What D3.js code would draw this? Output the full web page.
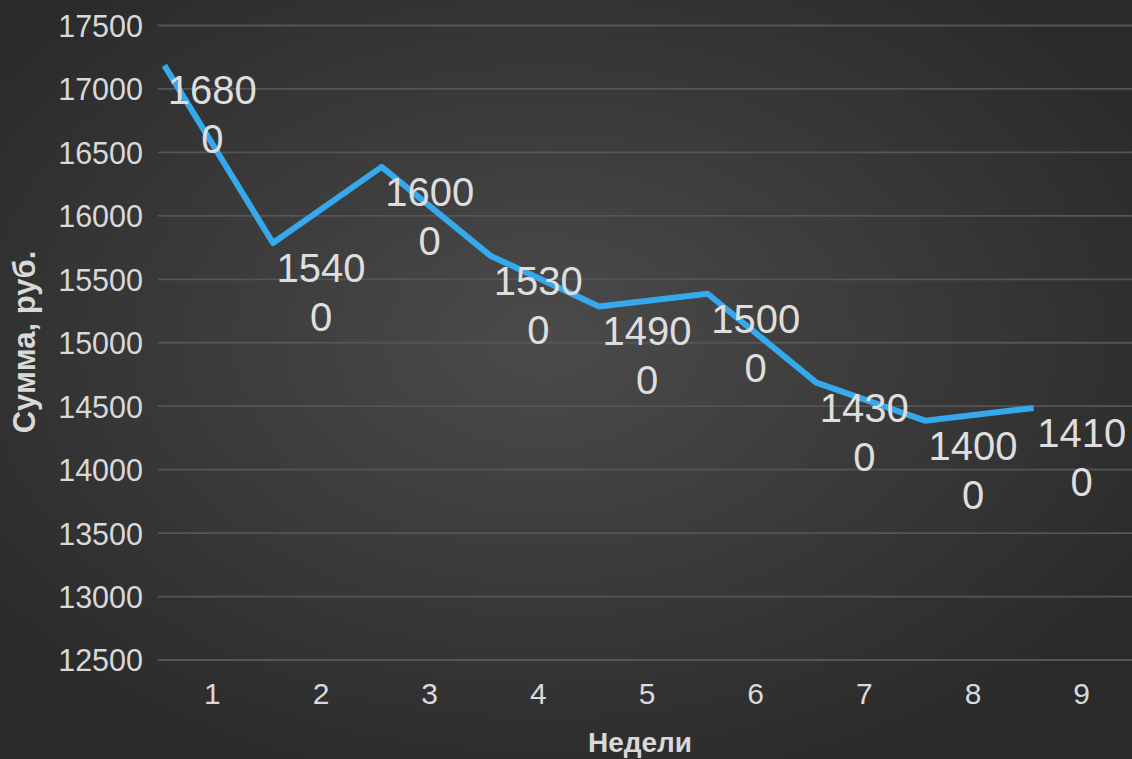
<!DOCTYPE html>
<html>
<head>
<meta charset="utf-8">
<script src="https://cdn.jsdelivr.net/npm/d3@7"></script>
<style>
  html, body { margin: 0; padding: 0; background: #2e2e2e; }
  svg { display: block; }
</style>
</head>
<body>
<svg id="chart" width="1132" height="759"></svg>
<script>
// Weekly totals, rubles
const weeks = ["1", "2", "3", "4", "5", "6", "7", "8", "9"];
const amounts = [16800, 15400, 16000, 15300, 14900, 15000, 14300, 14000, 14100];
const yTicks = [12500, 13000, 13500, 14000, 14500, 15000, 15500, 16000, 16500, 17000, 17500];
const yTitle = "Сумма, руб.";
const xTitle = "Недели";

const W = 1132, H = 759;
const svg = d3.select("#chart");

// Dark radial backdrop
const defs = svg.append("defs");
const grad = defs.append("radialGradient")
  .attr("id", "bg").attr("cx", "48%").attr("cy", "45%").attr("r", "62%");
grad.append("stop").attr("offset", "0%").attr("stop-color", "#4b4b4b");
grad.append("stop").attr("offset", "100%").attr("stop-color", "#2a2a2a");
svg.append("rect").attr("width", W).attr("height", H).attr("fill", "url(#bg)");

const plot = { left: 158, right: 1136, top: 25.5, bottom: 660 };

const x = d3.scaleBand().domain(weeks).range([plot.left, plot.right]).padding(0);
const y = d3.scaleLinear().domain([12500, 17500]).range([plot.bottom, plot.top]);
const cx = d => x(d) + x.bandwidth() / 2;

const font = "'Liberation Sans', Arial, Helvetica, sans-serif";

// Horizontal gridlines
svg.append("g")
  .selectAll("line").data(yTicks).join("line")
  .attr("x1", plot.left).attr("x2", W)
  .attr("y1", d => y(d)).attr("y2", d => y(d))
  .attr("stroke", "#555555").attr("stroke-width", 1.8);

// Y axis labels
const yAxis = svg.append("g")
  .attr("transform", `translate(${plot.left - 15},0)`)
  .call(d3.axisLeft(y).tickValues(yTicks).tickSize(0).tickPadding(0).tickFormat(d3.format("d")));
yAxis.select(".domain").remove();
yAxis.selectAll("text")
  .attr("fill", "#d9d9d9").attr("font-family", font).attr("font-size", 30.5)
  .attr("dy", "0.36em");

// X axis labels
const xAxis = svg.append("g")
  .attr("transform", `translate(0,${plot.bottom})`)
  .call(d3.axisBottom(x).tickSize(0).tickPadding(0));
xAxis.select(".domain").remove();
xAxis.selectAll("text")
  .attr("fill", "#d9d9d9").attr("font-family", font).attr("font-size", 30)
  .attr("dy", 0).attr("y", 44);

// Axis titles
svg.append("text")
  .attr("transform", `translate(35,342) rotate(-90)`)
  .attr("text-anchor", "middle")
  .attr("fill", "#d9d9d9").attr("font-family", font).attr("font-size", 31).attr("font-weight", "bold")
  .text(yTitle);
svg.append("text")
  .attr("x", 640).attr("y", 752)
  .attr("text-anchor", "middle")
  .attr("fill", "#d9d9d9").attr("font-family", font).attr("font-size", 28).attr("font-weight", "bold")
  .text(xTitle);

// Series line; it sits offset up and to the left of its value labels
const lineShift = { dx: -48, dy: -49 };
const line = d3.line().x((d, i) => cx(weeks[i])).y(d => y(d));
svg.append("path")
  .datum(amounts)
  .attr("transform", `translate(${lineShift.dx},${lineShift.dy})`)
  .attr("d", line)
  .attr("fill", "none")
  .attr("stroke", "#35a9ec")
  .attr("stroke-width", 6)
  .attr("stroke-linejoin", "round");

// Value labels, wrapped after the fourth digit
const labels = svg.append("g")
  .selectAll("text").data(amounts).join("text")
  .attr("text-anchor", "middle")
  .attr("fill", "#dedede").attr("font-family", font).attr("font-size", 40);
labels.each(function (d, i) {
  const s = String(d);
  const t = d3.select(this);
  const px = cx(weeks[i]), py = y(d);
  t.append("tspan").attr("x", px).attr("y", py - 10).text(s.slice(0, 4));
  t.append("tspan").attr("x", px).attr("y", py + 39).text(s.slice(4));
});
</script>
</body>
</html>
